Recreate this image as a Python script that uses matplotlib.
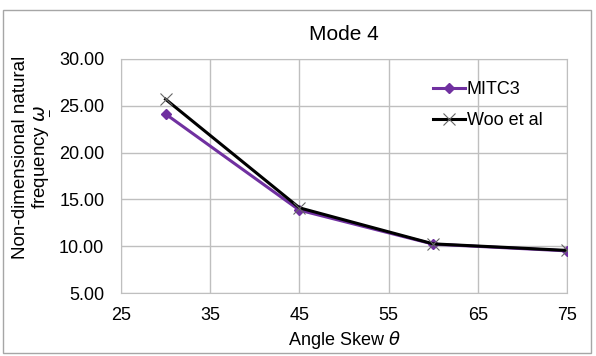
import matplotlib.pyplot as plt
from matplotlib.patches import Rectangle

plt.rcParams['font.family'] = ['Liberation Sans', 'DejaVu Sans']

# skew angles and frequencies
angles = [30, 45, 60, 75]
mitc3 = [24.12, 13.85, 10.22, 9.50]
woo = [25.70, 14.10, 10.25, 9.55]

fig = plt.figure(figsize=(5.96, 3.56), dpi=100)
ax = fig.add_axes([121 / 596, 1 - 293 / 356, 446 / 596, 234 / 356])

# excel-like chart border
fig.patches.append(Rectangle((3 / 596, 3 / 356), 588 / 596, 343 / 356,
                             transform=fig.transFigure, fill=False,
                             edgecolor='#a6a6a6', linewidth=1))

ax.plot(angles, mitc3, color='#7030a0', linewidth=2.2, marker='D',
        markersize=5, label='MITC3', zorder=3)
ax.plot(angles, woo, color='black', linewidth=2.2, marker='x',
        markersize=9, markeredgecolor='#666666', markeredgewidth=0.8,
        label='Woo et al', zorder=4)

ax.set_xlim(25, 75)
ax.set_ylim(5, 30)
ax.set_xticks(range(25, 76, 10))
ax.set_yticks(range(5, 31, 5))
ax.set_yticklabels([f'{v:.2f}' for v in range(5, 31, 5)])
ax.grid(True, color='#bfbfbf', linewidth=1)
ax.set_axisbelow(True)
for s in ax.spines.values():
    s.set_color('#bfbfbf')
ax.tick_params(length=0, labelsize=13)
ax.tick_params(axis='y', pad=12)
ax.tick_params(axis='x', pad=10)

ax.set_title('Mode 4', fontsize=15, pad=14)
ax.set_xlabel(r'Angle Skew $\theta$', fontsize=13, labelpad=4)
ax.set_ylabel('Non-dimensional natural\n' + r'frequency $\underset{\_}{\omega}$',
              fontsize=13.5, linespacing=1.1)
ax.yaxis.set_label_coords(-0.152, 0.58)

ax.legend(loc='upper left', bbox_to_anchor=(0.684, 0.935), frameon=False,
          fontsize=13, handlelength=1.75, handletextpad=0.1,
          labelspacing=0.75, borderaxespad=0)

fig.savefig('out.png', dpi=100)
